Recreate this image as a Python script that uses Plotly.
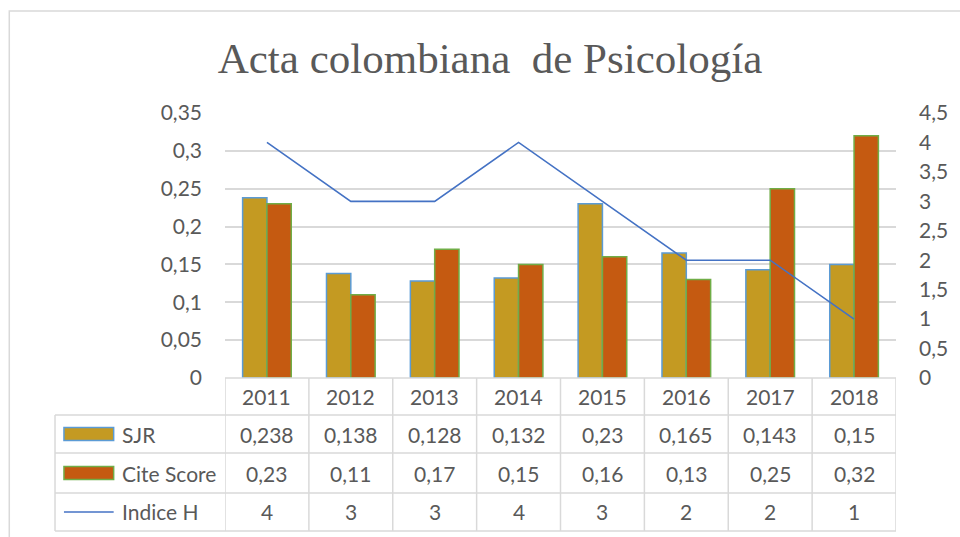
import plotly.graph_objects as go

years = ["2011", "2012", "2013", "2014", "2015", "2016", "2017", "2018"]
sjr = [0.238, 0.138, 0.128, 0.132, 0.23, 0.165, 0.143, 0.15]
cite_score = [0.23, 0.11, 0.17, 0.15, 0.16, 0.13, 0.25, 0.32]
indice_h = [4, 3, 3, 4, 3, 2, 2, 1]
series_names = ["SJR", "Cite Score", "Indice H"]
title_text = "Acta colombiana  de Psicología"

W, H = 960, 537
L, R, T, B = 225, 900, 113, 378
GRAY = "#595959"
GRID = "#D9D9D9"
FONT = "Lato"
FS_TICK = 21
FS_TBL = 21

def fmt(v):
    return ("%g" % v).replace(".", ",")

def py(p):  # pixel y -> paper y
    return (B - p) / (B - T)

def px(p):  # pixel x -> paper x
    return (p - L) / (R - L)

fig = go.Figure()
fig.add_trace(go.Bar(x=years, y=sjr, name=series_names[0], marker=dict(color="#C49A22", line=dict(color="#5B9BD5", width=1.5))))
fig.add_trace(go.Bar(x=years, y=cite_score, name=series_names[1], marker=dict(color="#C55A11", line=dict(color="#70AD47", width=1.5))))
fig.add_trace(go.Scatter(x=years, y=indice_h, name=series_names[2], mode="lines", line=dict(color="#4472C4", width=1.6), yaxis="y2"))

shapes = []
annotations = []
n = len(years)
row_px = [378, 415, 453, 493, 531]
tbl_left = 54

# horizontal lines
shapes.append(dict(type="line", xref="x", yref="paper", x0=-0.5, x1=n - 0.5, y0=py(row_px[0]), y1=py(row_px[0]), line=dict(color=GRID, width=1.5)))
for rp in row_px[1:]:
    shapes.append(dict(type="line", xref="paper", yref="paper", x0=px(tbl_left), x1=1, y0=py(rp), y1=py(rp), line=dict(color=GRID, width=1.5)))
# vertical lines
for i in range(n + 1):
    shapes.append(dict(type="line", xref="x", yref="paper", x0=i - 0.5, x1=i - 0.5, y0=py(row_px[0]), y1=py(row_px[-1]), line=dict(color=GRID, width=1.5)))
shapes.append(dict(type="line", xref="paper", yref="paper", x0=px(tbl_left), x1=px(tbl_left), y0=py(row_px[1]), y1=py(row_px[-1]), line=dict(color=GRID, width=1.5)))
# outer chart border
shapes.append(dict(type="rect", xref="paper", yref="paper", x0=px(8), x1=px(990), y0=py(11), y1=py(600), line=dict(color=GRID, width=1.5)))

# table text
rows = [years, [fmt(v) for v in sjr], [fmt(v) for v in cite_score], [fmt(v) for v in indice_h]]
for r, vals in enumerate(rows):
    yc = py((row_px[r] + row_px[r + 1]) / 2)
    for i, v in enumerate(vals):
        annotations.append(dict(text=v, x=i, y=yc, xref="x", yref="paper", showarrow=False, xanchor="center", yanchor="middle", font=dict(family=FONT, size=FS_TBL, color=GRAY)))

# legend keys
for r, name in enumerate(series_names):
    yc = py((row_px[r + 1] + row_px[r + 2]) / 2)
    annotations.append(dict(text=name, x=px(119), y=yc, xref="paper", yref="paper", showarrow=False, xanchor="left", yanchor="middle", font=dict(family=FONT, size=FS_TBL, color=GRAY)))
keys = [("#C49A22", "#5B9BD5"), ("#C55A11", "#70AD47")]
for r, (fc, lc) in enumerate(keys):
    yc = (row_px[r + 1] + row_px[r + 2]) / 2
    shapes.append(dict(type="rect", xref="paper", yref="paper", x0=px(63), x1=px(113), y0=py(yc - 6.5), y1=py(yc + 6.5), fillcolor=fc, line=dict(color=lc, width=1.5)))
yc = (row_px[3] + row_px[4]) / 2
shapes.append(dict(type="line", xref="paper", yref="paper", x0=px(63), x1=px(113), y0=py(yc), y1=py(yc), line=dict(color="#4472C4", width=1.6)))

fig.update_layout(
    width=W, height=H,
    margin=dict(l=L, r=W - R, t=T, b=H - B, pad=0),
    paper_bgcolor="white", plot_bgcolor="white",
    separators=",.",
    showlegend=False,
    barmode="group", bargap=0.42, bargroupgap=0,
    title=dict(text=title_text, x=490 / W, xref="container", xanchor="center", y=1 - 58 / H, yref="container", yanchor="middle",
               font=dict(family="Liberation Serif", size=43, color=GRAY)),
    xaxis=dict(showticklabels=False, showgrid=False, zeroline=False, showline=False, ticks="", range=[-0.5, n - 0.5]),
    yaxis=dict(range=[0, 0.35], dtick=0.05, tick0=0, showgrid=True, gridcolor=GRID, gridwidth=1.5, zeroline=False,
               tickfont=dict(family=FONT, size=FS_TICK, color=GRAY), ticks="", ticklabelstandoff=22),
    yaxis2=dict(range=[0, 4.5], dtick=0.5, tick0=0, overlaying="y", side="right", showgrid=False, zeroline=False,
                tickfont=dict(family=FONT, size=FS_TICK, color=GRAY), ticks="", ticklabelstandoff=22),
    shapes=shapes, annotations=annotations,
)

fig.write_html("out.html", config={"displayModeBar": False},
               post_script="document.body.style.margin='0';document.body.style.overflow='hidden';")
